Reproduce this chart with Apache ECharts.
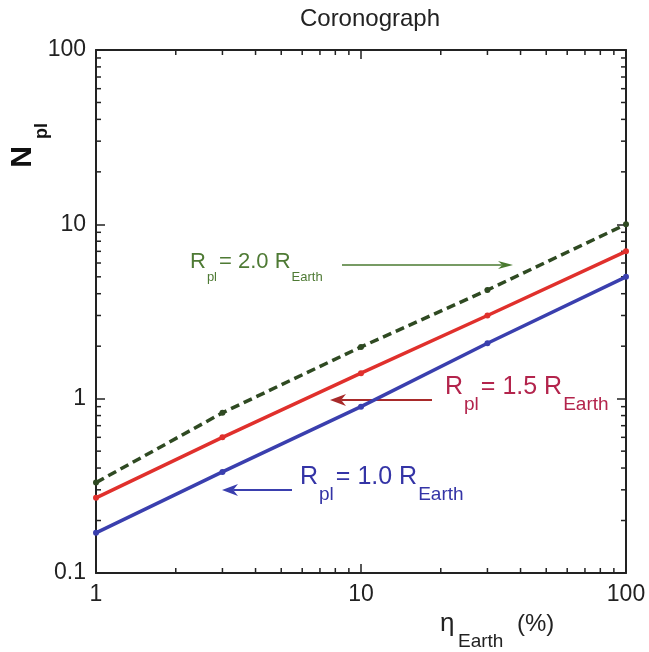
<!DOCTYPE html>
<html><head><meta charset="utf-8">
<script src="https://cdn.jsdelivr.net/npm/echarts@6/dist/echarts.min.js"></script>
<style>html,body{margin:0;padding:0;background:#fff}#c{width:649px;height:652px}</style>
</head><body><div id="c"></div>
<script>
// ---- data ----
const etaEarth = [1, 3, 10, 30, 100];          // x values (%)
const nplR10 = [0.17, 0.38, 0.90, 2.08, 5.0];  // Rpl = 1.0 REarth
const nplR15 = [0.27, 0.60, 1.40, 3.0, 7.0];   // Rpl = 1.5 REarth
const nplR20 = [0.33, 0.83, 1.98, 4.2, 10.0];  // Rpl = 2.0 REarth
const xTickLabels = ['1', '10', '100'];
const yTickLabels = ['0.1', '1', '10', '100'];
const xMinorTicks = [2, 3, 4, 5, 6, 7, 8, 9, 20, 30, 40, 50, 60, 70, 80, 90];
const yMinorTicks = [0.2, 0.3, 0.4, 0.5, 0.6, 0.7, 0.8, 0.9, 2, 3, 4, 5, 6, 7, 8, 9, 20, 30, 40, 50, 60, 70, 80, 90];
const X_MIN = 1, X_MAX = 100, Y_MIN = 0.1, Y_MAX = 100;

const FONT = '"Liberation Sans", Arial, Helvetica, sans-serif';
const AX = '#222';
const C_BLUE = '#3a3fae', C_RED = '#e0302c', C_GREEN = '#2f4a22';
const T_BLUE = '#3434a6', T_RED = '#b3244c', T_GREEN = '#4e7a34';
const A_BLUE = '#3a3fae', A_RED = '#a82a2a', A_GREEN = '#4a7a30';

function pair(xs, ys) { return xs.map((x, i) => [x, ys[i]]); }
function fmt(list) { return v => { const s = list.find(t => Math.abs(parseFloat(t) - v) < 1e-9 * Math.max(1, v)); return s === undefined ? '' : s; }; }

function axisCommon(extra) {
  return Object.assign({
    type: 'log', logBase: 10,
    axisLine: { show: true, onZero: false, lineStyle: { color: AX, width: 2 } },
    axisTick: { show: true, inside: true, length: 9, lineStyle: { color: AX, width: 1.5 } },
    splitLine: { show: false }, minorTick: { show: false }, minorSplitLine: { show: false }
  }, extra);
}

function minorXRender(params, api) {
  const v = api.value(0);
  const b = api.coord([v, Y_MIN]), t = api.coord([v, Y_MAX]);
  const st = { stroke: AX, lineWidth: 1.5 };
  return { type: 'group', children: [
    { type: 'line', shape: { x1: b[0], y1: b[1], x2: b[0], y2: b[1] - 5 }, style: st },
    { type: 'line', shape: { x1: t[0], y1: t[1], x2: t[0], y2: t[1] + 5 }, style: st }
  ]};
}
function minorYRender(params, api) {
  const v = api.value(1);
  const l = api.coord([X_MIN, v]), r = api.coord([X_MAX, v]);
  const st = { stroke: AX, lineWidth: 1.5 };
  return { type: 'group', children: [
    { type: 'line', shape: { x1: l[0], y1: l[1], x2: l[0] + 5, y2: l[1] }, style: st },
    { type: 'line', shape: { x1: r[0], y1: r[1], x2: r[0] - 5, y2: r[1] }, style: st }
  ]};
}

function txt(x, y, s, size, color, extra) {
  return Object.assign({ type: 'text', x: x, y: y, silent: true,
    style: Object.assign({ text: s, fontSize: size, fontFamily: FONT, fill: color,
      align: 'left', verticalAlign: 'middle' }, (extra && extra.style) || {}) },
    extra && extra.el || {});
}
function label(x, y, big, sub1, mid, sub2, color, bs, ss, subDy) {
  const out = [];
  const w = (s, f) => { const c = document.createElement('canvas').getContext('2d'); c.font = f + 'px ' + FONT; return c.measureText(s).width; };
  let cx = x;
  out.push(txt(cx, y, big, bs, color)); cx += w(big, bs) + 1;
  out.push(txt(cx, y + subDy, sub1, ss, color)); cx += w(sub1, ss) + 2;
  out.push(txt(cx, y, mid, bs, color)); cx += w(mid, bs) + 1;
  out.push(txt(cx, y + subDy, sub2, ss, color));
  return out;
}
function arrow(x1, y, x2, color, lw, hl, hw) {
  const dir = x2 > x1 ? 1 : -1;
  return [
    { type: 'line', silent: true, shape: { x1: x1, y1: y, x2: x2 - dir * hl * 0.7, y2: y }, style: { stroke: color, lineWidth: lw } },
    { type: 'polygon', silent: true, shape: { points: [[x2, y], [x2 - dir * hl, y - hw], [x2 - dir * hl * 0.7, y], [x2 - dir * hl, y + hw]] }, style: { fill: color } }
  ];
}

const chart = echarts.init(document.getElementById('c'), null, { renderer: 'canvas' });

const graphics = []
  .concat([txt(370, 19, 'Coronograph', 24, '#222', { style: { align: 'center' } })])
  .concat(label(190, 262, 'R', 'pl', '= 2.0 R', 'Earth', T_GREEN, 22, 13, 15))
  .concat(arrow(342, 265, 513, A_GREEN, 1.6, 15, 4))
  .concat(label(445, 387, 'R', 'pl', '= 1.5 R', 'Earth', T_RED, 25, 19, 18))
  .concat(arrow(432, 400, 330, A_RED, 2, 16, 6))
  .concat(label(300, 477, 'R', 'pl', '= 1.0 R', 'Earth', T_BLUE, 25, 19, 18))
  .concat(arrow(292, 490, 222, A_BLUE, 2, 16, 6))
  .concat([
    txt(440, 624, 'η', 26, '#222'),
    txt(458, 642, 'Earth', 19, '#222'),
    txt(517, 624, '(%)', 24, '#222'),
    txt(23, 157, 'N', 30, '#111', { style: { align: 'center', fontWeight: 'bold' }, el: { rotation: Math.PI / 2 } }),
    txt(42, 131, 'pl', 18, '#111', { style: { align: 'center', fontWeight: 'bold' }, el: { rotation: Math.PI / 2 } })
  ]);

const lineSeries = (name, ys, color, dashed) => ({
  name: name, type: 'line', xAxisIndex: 0, yAxisIndex: 0,
  data: pair(etaEarth, ys), clip: false,
  symbol: 'circle', symbolSize: 6, showSymbol: true,
  lineStyle: { color: color, width: 3.5, type: dashed ? [9, 5] : 'solid' },
  itemStyle: { color: color }, z: dashed ? 3 : 4
});

chart.setOption({
  animation: false,
  backgroundColor: '#fff',
  textStyle: { fontFamily: FONT },
  grid: { left: 96, right: 23, top: 50, bottom: 79, containLabel: false },
  xAxis: [
    axisCommon({ position: 'bottom', min: X_MIN, max: X_MAX,
      axisLabel: { show: true, margin: 10, color: '#222', fontSize: 23, fontFamily: FONT, formatter: fmt(xTickLabels) } }),
    axisCommon({ position: 'top', min: X_MIN, max: X_MAX, axisLabel: { show: false } })
  ],
  yAxis: [
    axisCommon({ position: 'left', min: Y_MIN, max: Y_MAX,
      axisLabel: { show: true, margin: 10, color: '#222', fontSize: 23, fontFamily: FONT, formatter: fmt(yTickLabels) } }),
    axisCommon({ position: 'right', min: Y_MIN, max: Y_MAX, axisLabel: { show: false } })
  ],
  series: [
    { type: 'custom', coordinateSystem: 'cartesian2d', xAxisIndex: 0, yAxisIndex: 0, clip: false, silent: true,
      data: xMinorTicks.map(v => [v, Y_MIN]), renderItem: minorXRender, z: 1 },
    { type: 'custom', coordinateSystem: 'cartesian2d', xAxisIndex: 0, yAxisIndex: 0, clip: false, silent: true,
      data: yMinorTicks.map(v => [X_MIN, v]), renderItem: minorYRender, z: 1 },
    lineSeries('Rpl = 2.0 REarth', nplR20, C_GREEN, true),
    lineSeries('Rpl = 1.5 REarth', nplR15, C_RED, false),
    lineSeries('Rpl = 1.0 REarth', nplR10, C_BLUE, false)
  ],
  graphic: graphics
});
</script>
</body></html>
